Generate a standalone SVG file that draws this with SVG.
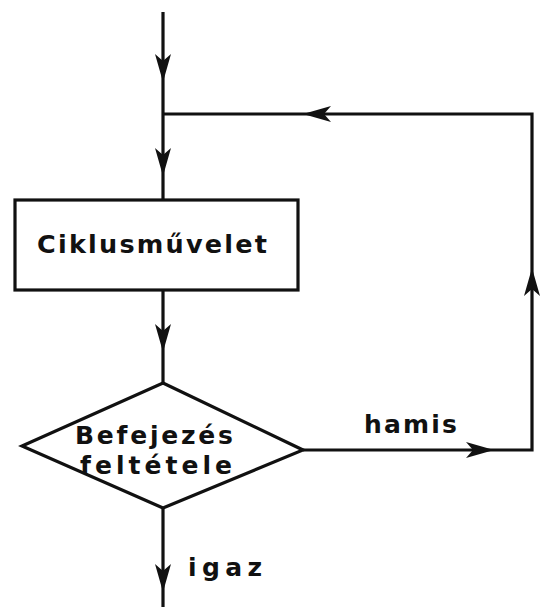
<svg xmlns="http://www.w3.org/2000/svg" xmlns:xlink="http://www.w3.org/1999/xlink" width="540" height="607" viewBox="0 0 540 607">
<style>
.ln{fill:none;stroke:#111;stroke-width:3.2;stroke-linejoin:miter}
.sh{fill:#fff;stroke:#111;stroke-width:3.2}
.t{font-family:"DejaVu Sans","Liberation Sans",sans-serif;font-weight:bold;fill:#111}
.ah{fill:#111}
</style>
<defs>
<path id="ah" d="M0,0 L-28,-8 L-21,0 L-28,8 Z"/>
</defs>
<rect width="540" height="607" fill="#fff"/>
<g id="connectors">
<path class="ln" d="M163,12 V200"/>
<path class="ln" d="M163,290 V383"/>
<path class="ln" d="M163,508 V607"/>
<path class="ln" d="M303,450 H532 V114 H163"/>
<use xlink:href="#ah" class="ah" transform="translate(163,82) rotate(90)"/>
<use xlink:href="#ah" class="ah" transform="translate(163,176) rotate(90)"/>
<use xlink:href="#ah" class="ah" transform="translate(163,352) rotate(90)"/>
<use xlink:href="#ah" class="ah" transform="translate(303,114) rotate(180)"/>
<use xlink:href="#ah" class="ah" transform="translate(494,450)"/>
<use xlink:href="#ah" class="ah" transform="translate(532,268) rotate(-90)"/>
<use xlink:href="#ah" class="ah" transform="translate(163,592) rotate(90)"/>
<text class="t" x="364" y="433" font-size="25" textLength="93">hamis</text>
<text class="t" x="188" y="576" font-size="25" textLength="74">igaz</text>
</g>
<g id="n-box">
<rect class="sh" x="15" y="200" width="283" height="90"/>
<text class="t" x="37" y="253" font-size="25.5" textLength="230">Ciklusművelet</text>
</g>
<g id="n-diamond">
<path class="sh" d="M163,383 L303,450 L163,508 L22,446 Z"/>
<text class="t" x="75" y="444" font-size="25" textLength="158">Befejezés</text>
<text class="t" x="80" y="474" font-size="25" textLength="152">feltétele</text>
</g>
</svg>
